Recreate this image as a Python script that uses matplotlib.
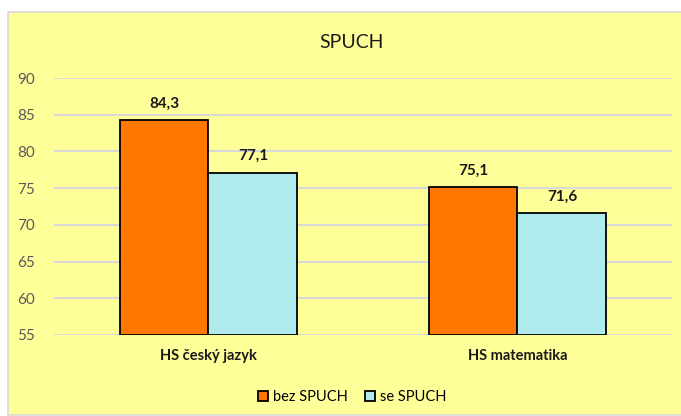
import numpy as np
import matplotlib.pyplot as plt
from matplotlib.patches import Rectangle

plt.rcParams['font.family'] = ['Lato', 'DejaVu Sans']

categories = ['HS český jazyk', 'HS matematika']
bez = [84.3, 75.1]
se = [77.1, 71.6]
series_names = ['bez SPUCH', 'se SPUCH']
yticks = [55, 60, 65, 70, 75, 80, 85, 90]

fig = plt.figure(figsize=(6.81, 4.16), dpi=100)
fig.patch.set_facecolor('white')
# yellow chart panel behind everything
fig.patches.append(Rectangle((8 / 681, 0.002), 1.0, 1 - 12 / 416 - 0.002,
                             transform=fig.transFigure, facecolor='#FFFF99',
                             edgecolor='#D9D9D9', linewidth=1.2, zorder=-10))

ax = fig.add_axes([54 / 681, 1 - 335 / 416, (672 - 54) / 681, (335 - 78) / 416])
ax.set_facecolor('none')

x = np.arange(len(categories))
w = 0.288
b1 = ax.bar(x - w / 2, np.array(bez) - 55, w, bottom=55, color='#FF7700',
            edgecolor='black', linewidth=1.3, label=series_names[0], zorder=3)
b2 = ax.bar(x + w / 2, np.array(se) - 55, w, bottom=55, color='#AFEAEC',
            edgecolor='black', linewidth=1.3, label=series_names[1], zorder=3)

for xs, vals in ((x - w / 2, bez), (x + w / 2, se)):
    for xi, v in zip(xs, vals):
        ax.text(xi, v + 1.3, f'{v:.1f}'.replace('.', ','), ha='center', va='bottom',
                fontsize=11, fontweight='bold', color='#1a1a1a')

ax.set_xlim(-0.5, 1.5)
ax.set_ylim(55, 90)
ax.set_yticks(yticks)
ax.yaxis.grid(True, color='#D9D9D9', linewidth=1.5, zorder=0)
ax.set_axisbelow(True)
for s in ax.spines.values():
    s.set_visible(False)
ax.tick_params(length=0)
ax.tick_params(axis='y', labelsize=11, labelcolor='#595959', pad=14)
ax.set_xticks(x)
ax.set_xticklabels(categories, fontsize=10.5, fontweight='bold', color='#1a1a1a')
ax.tick_params(axis='x', pad=10)

fig.text(352 / 681, 1 - 42 / 416, 'SPUCH', ha='center', va='center',
         fontsize=14, color='#1a1a1a')

fig.legend(handles=[b1, b2], labels=series_names, loc='center',
           bbox_to_anchor=(352 / 681, 1 - 397 / 416), ncol=2, frameon=False,
           fontsize=10.5, handlelength=0.7, handleheight=0.7, handletextpad=0.3,
           columnspacing=1.2)

fig.savefig('out.png', dpi=100)
